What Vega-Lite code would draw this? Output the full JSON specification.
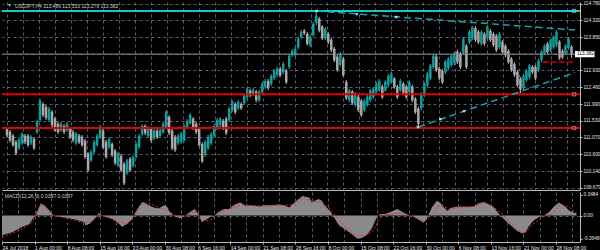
{
"$schema":"https://vega.github.io/schema/vega-lite/v6.json",
"background":"#000000",
"padding":0,
"spacing":1,
"config":{"view":{"stroke":null},"font":"Liberation Sans","axis":{"labelOverlap":false,"labelFont":"Liberation Sans"},"text":{"font":"Liberation Sans"}},
"resolve":{"scale":{"x":"independent","y":"independent"}},
"datasets":{
"candles":[
{"b":-32,"o":111.31,"h":111.36,"l":111.08,"c":111.13},
{"b":-29,"o":111.23,"h":111.28,"l":110.94,"c":110.99},
{"b":-26,"o":111.12,"h":111.17,"l":110.81,"c":110.86},
{"b":-23,"o":110.95,"h":111.00,"l":110.58,"c":110.63},
{"b":-20,"o":110.77,"h":111.08,"l":110.72,"c":111.03},
{"b":-17,"o":110.91,"h":111.22,"l":110.86,"c":111.17},
{"b":-14,"o":111.12,"h":111.17,"l":110.89,"c":110.94},
{"b":-11,"o":111.12,"h":111.17,"l":110.81,"c":110.86},
{"b":-8,"o":110.91,"h":111.14,"l":110.86,"c":111.09},
{"b":-5,"o":111.03,"h":111.08,"l":110.72,"c":110.77},
{"b":-2,"o":111.22,"h":111.56,"l":111.17,"c":111.51},
{"b":1,"o":111.55,"h":112.14,"l":111.50,"c":112.09},
{"b":4,"o":112.00,"h":112.05,"l":111.64,"c":111.69},
{"b":7,"o":111.92,"h":111.97,"l":111.56,"c":111.61},
{"b":10,"o":111.55,"h":111.92,"l":111.50,"c":111.87},
{"b":13,"o":111.78,"h":111.83,"l":111.36,"c":111.41},
{"b":16,"o":111.59,"h":111.64,"l":111.22,"c":111.27},
{"b":19,"o":111.45,"h":111.50,"l":111.17,"c":111.22},
{"b":22,"o":111.27,"h":111.50,"l":111.22,"c":111.45},
{"b":25,"o":111.39,"h":111.44,"l":111.17,"c":111.22},
{"b":28,"o":111.27,"h":111.50,"l":111.22,"c":111.45},
{"b":31,"o":111.31,"h":111.36,"l":111.03,"c":111.08},
{"b":34,"o":111.23,"h":111.28,"l":110.94,"c":110.99},
{"b":37,"o":110.91,"h":111.22,"l":110.86,"c":111.17},
{"b":40,"o":111.12,"h":111.17,"l":110.89,"c":110.94},
{"b":43,"o":111.09,"h":111.14,"l":110.81,"c":110.86},
{"b":46,"o":110.98,"h":111.03,"l":110.48,"c":110.53},
{"b":49,"o":110.62,"h":110.67,"l":110.11,"c":110.16},
{"b":52,"o":110.44,"h":110.72,"l":110.39,"c":110.67},
{"b":55,"o":110.66,"h":111.00,"l":110.61,"c":110.95},
{"b":58,"o":110.86,"h":111.17,"l":110.81,"c":111.12},
{"b":61,"o":111.08,"h":111.42,"l":111.03,"c":111.37},
{"b":64,"o":111.26,"h":111.31,"l":110.75,"c":110.80},
{"b":67,"o":110.95,"h":111.00,"l":110.48,"c":110.53},
{"b":70,"o":110.80,"h":111.08,"l":110.75,"c":111.03},
{"b":73,"o":110.89,"h":110.94,"l":110.53,"c":110.58},
{"b":76,"o":110.70,"h":110.75,"l":110.31,"c":110.36},
{"b":79,"o":110.30,"h":110.67,"l":110.25,"c":110.62},
{"b":82,"o":110.56,"h":110.61,"l":110.11,"c":110.16},
{"b":85,"o":110.34,"h":110.39,"l":109.75,"c":109.80},
{"b":88,"o":110.08,"h":110.48,"l":110.03,"c":110.43},
{"b":91,"o":110.48,"h":110.53,"l":110.11,"c":110.16},
{"b":94,"o":110.28,"h":110.58,"l":110.23,"c":110.53},
{"b":97,"o":110.53,"h":110.94,"l":110.48,"c":110.89},
{"b":100,"o":110.80,"h":111.17,"l":110.75,"c":111.12},
{"b":103,"o":111.16,"h":111.44,"l":111.11,"c":111.39},
{"b":106,"o":111.39,"h":111.44,"l":111.14,"c":111.19},
{"b":109,"o":111.11,"h":111.39,"l":111.06,"c":111.34},
{"b":112,"o":111.31,"h":111.36,"l":110.94,"c":110.99},
{"b":115,"o":111.05,"h":111.31,"l":111.00,"c":111.26},
{"b":118,"o":111.26,"h":111.31,"l":111.03,"c":111.08},
{"b":121,"o":111.11,"h":111.33,"l":111.06,"c":111.28},
{"b":124,"o":111.22,"h":111.50,"l":111.17,"c":111.45},
{"b":127,"o":111.36,"h":111.83,"l":111.31,"c":111.78},
{"b":130,"o":111.64,"h":111.69,"l":111.14,"c":111.19},
{"b":133,"o":111.26,"h":111.31,"l":110.72,"c":110.77},
{"b":136,"o":111.09,"h":111.14,"l":110.67,"c":110.72},
{"b":139,"o":110.91,"h":111.17,"l":110.86,"c":111.12},
{"b":142,"o":110.94,"h":111.22,"l":110.89,"c":111.17},
{"b":145,"o":110.99,"h":111.44,"l":110.94,"c":111.39},
{"b":148,"o":111.36,"h":111.58,"l":111.31,"c":111.53},
{"b":151,"o":111.47,"h":111.75,"l":111.42,"c":111.70},
{"b":154,"o":111.59,"h":111.64,"l":111.28,"c":111.33},
{"b":157,"o":111.45,"h":111.50,"l":111.17,"c":111.22},
{"b":160,"o":111.31,"h":111.36,"l":110.81,"c":110.86},
{"b":163,"o":110.89,"h":110.94,"l":110.36,"c":110.41},
{"b":166,"o":110.58,"h":111.00,"l":110.53,"c":110.95},
{"b":169,"o":110.77,"h":111.14,"l":110.72,"c":111.09},
{"b":172,"o":110.91,"h":111.22,"l":110.86,"c":111.17},
{"b":175,"o":111.13,"h":111.44,"l":111.08,"c":111.39},
{"b":178,"o":111.33,"h":111.61,"l":111.28,"c":111.56},
{"b":181,"o":111.41,"h":111.64,"l":111.36,"c":111.59},
{"b":184,"o":111.53,"h":111.58,"l":111.28,"c":111.33},
{"b":187,"o":111.59,"h":111.64,"l":111.14,"c":111.19},
{"b":190,"o":111.55,"h":111.92,"l":111.50,"c":111.87},
{"b":193,"o":111.83,"h":112.11,"l":111.78,"c":112.06},
{"b":196,"o":112.00,"h":112.05,"l":111.72,"c":111.77},
{"b":199,"o":111.88,"h":112.11,"l":111.83,"c":112.06},
{"b":202,"o":112.00,"h":112.05,"l":111.83,"c":111.88},
{"b":205,"o":112.02,"h":112.28,"l":111.97,"c":112.23},
{"b":208,"o":112.19,"h":112.47,"l":112.14,"c":112.42},
{"b":211,"o":112.37,"h":112.42,"l":112.19,"c":112.24},
{"b":214,"o":112.27,"h":112.44,"l":112.22,"c":112.39},
{"b":217,"o":112.34,"h":112.39,"l":112.05,"c":112.10},
{"b":220,"o":112.10,"h":112.39,"l":112.05,"c":112.34},
{"b":223,"o":112.33,"h":112.61,"l":112.28,"c":112.56},
{"b":226,"o":112.47,"h":112.69,"l":112.42,"c":112.64},
{"b":229,"o":112.64,"h":112.69,"l":112.39,"c":112.44},
{"b":232,"o":112.55,"h":112.83,"l":112.50,"c":112.78},
{"b":235,"o":112.71,"h":112.97,"l":112.66,"c":112.92},
{"b":238,"o":112.80,"h":113.03,"l":112.75,"c":112.98},
{"b":241,"o":112.98,"h":113.03,"l":112.75,"c":112.80},
{"b":244,"o":112.88,"h":113.16,"l":112.83,"c":113.11},
{"b":247,"o":112.92,"h":112.97,"l":112.55,"c":112.60},
{"b":250,"o":113.02,"h":113.39,"l":112.97,"c":113.34},
{"b":253,"o":113.35,"h":113.52,"l":113.30,"c":113.47},
{"b":256,"o":113.35,"h":113.58,"l":113.30,"c":113.53},
{"b":259,"o":113.57,"h":113.86,"l":113.52,"c":113.81},
{"b":262,"o":113.85,"h":114.05,"l":113.80,"c":114.00},
{"b":265,"o":114.03,"h":114.08,"l":113.91,"c":113.96},
{"b":268,"o":113.94,"h":113.99,"l":113.62,"c":113.67},
{"b":271,"o":113.63,"h":113.91,"l":113.58,"c":113.86},
{"b":274,"o":113.91,"h":114.27,"l":113.86,"c":114.22},
{"b":277,"o":114.24,"h":114.58,"l":114.19,"c":114.45},
{"b":280,"o":114.36,"h":114.41,"l":113.99,"c":114.04},
{"b":283,"o":114.14,"h":114.19,"l":113.77,"c":113.82},
{"b":286,"o":113.82,"h":114.13,"l":113.77,"c":114.08},
{"b":289,"o":113.94,"h":113.99,"l":113.66,"c":113.71},
{"b":292,"o":113.78,"h":113.83,"l":113.44,"c":113.49},
{"b":295,"o":113.53,"h":113.58,"l":113.16,"c":113.21},
{"b":298,"o":113.31,"h":113.36,"l":112.89,"c":112.94},
{"b":301,"o":113.08,"h":113.44,"l":113.03,"c":113.39},
{"b":304,"o":113.25,"h":113.30,"l":112.75,"c":112.80},
{"b":307,"o":112.61,"h":112.66,"l":112.11,"c":112.16},
{"b":310,"o":112.10,"h":112.42,"l":112.05,"c":112.37},
{"b":313,"o":112.34,"h":112.39,"l":111.97,"c":112.02},
{"b":316,"o":111.97,"h":112.33,"l":111.92,"c":112.28},
{"b":319,"o":112.20,"h":112.25,"l":111.78,"c":111.83},
{"b":322,"o":112.09,"h":112.14,"l":111.64,"c":111.69},
{"b":325,"o":111.83,"h":112.14,"l":111.78,"c":112.09},
{"b":328,"o":111.97,"h":112.25,"l":111.92,"c":112.20},
{"b":331,"o":112.10,"h":112.42,"l":112.05,"c":112.37},
{"b":334,"o":112.19,"h":112.47,"l":112.14,"c":112.42},
{"b":337,"o":112.33,"h":112.61,"l":112.28,"c":112.56},
{"b":340,"o":112.38,"h":112.69,"l":112.33,"c":112.64},
{"b":343,"o":112.48,"h":112.53,"l":112.14,"c":112.19},
{"b":346,"o":112.38,"h":112.66,"l":112.33,"c":112.61},
{"b":349,"o":112.52,"h":112.83,"l":112.47,"c":112.78},
{"b":352,"o":112.60,"h":112.89,"l":112.55,"c":112.84},
{"b":355,"o":112.70,"h":112.75,"l":112.42,"c":112.47},
{"b":358,"o":112.48,"h":112.53,"l":112.14,"c":112.19},
{"b":361,"o":112.38,"h":112.69,"l":112.33,"c":112.64},
{"b":364,"o":112.56,"h":112.61,"l":112.25,"c":112.30},
{"b":367,"o":112.48,"h":112.53,"l":112.14,"c":112.19},
{"b":370,"o":112.33,"h":112.66,"l":112.28,"c":112.61},
{"b":373,"o":112.48,"h":112.53,"l":112.05,"c":112.10},
{"b":376,"o":112.14,"h":112.19,"l":111.72,"c":111.77},
{"b":379,"o":111.87,"h":111.92,"l":111.36,"c":111.45},
{"b":382,"o":111.88,"h":112.33,"l":111.83,"c":112.28},
{"b":385,"o":112.24,"h":112.61,"l":112.19,"c":112.56},
{"b":388,"o":112.52,"h":112.89,"l":112.47,"c":112.84},
{"b":391,"o":112.71,"h":113.11,"l":112.66,"c":113.06},
{"b":394,"o":113.02,"h":113.39,"l":112.97,"c":113.34},
{"b":397,"o":113.31,"h":113.36,"l":112.89,"c":112.94},
{"b":400,"o":112.98,"h":113.03,"l":112.66,"c":112.71},
{"b":403,"o":112.92,"h":112.97,"l":112.55,"c":112.60},
{"b":406,"o":112.88,"h":113.22,"l":112.83,"c":113.17},
{"b":409,"o":112.99,"h":113.30,"l":112.94,"c":113.25},
{"b":412,"o":113.08,"h":113.39,"l":113.03,"c":113.34},
{"b":415,"o":113.13,"h":113.44,"l":113.08,"c":113.39},
{"b":418,"o":113.45,"h":113.50,"l":113.11,"c":113.16},
{"b":421,"o":113.39,"h":113.44,"l":112.97,"c":113.02},
{"b":424,"o":113.41,"h":113.86,"l":113.36,"c":113.81},
{"b":427,"o":113.61,"h":113.66,"l":112.97,"c":113.02},
{"b":430,"o":113.71,"h":114.05,"l":113.66,"c":114.00},
{"b":433,"o":113.82,"h":114.16,"l":113.77,"c":114.11},
{"b":436,"o":114.11,"h":114.16,"l":113.72,"c":113.77},
{"b":439,"o":114.00,"h":114.05,"l":113.66,"c":113.71},
{"b":442,"o":113.67,"h":114.05,"l":113.62,"c":114.00},
{"b":445,"o":113.94,"h":113.99,"l":113.62,"c":113.67},
{"b":448,"o":113.82,"h":114.19,"l":113.77,"c":114.14},
{"b":451,"o":114.03,"h":114.08,"l":113.72,"c":113.77},
{"b":454,"o":113.94,"h":113.99,"l":113.58,"c":113.63},
{"b":457,"o":113.89,"h":113.94,"l":113.44,"c":113.49},
{"b":460,"o":113.57,"h":113.99,"l":113.52,"c":113.94},
{"b":463,"o":113.72,"h":113.77,"l":113.39,"c":113.44},
{"b":466,"o":113.61,"h":113.66,"l":113.30,"c":113.35},
{"b":469,"o":113.47,"h":113.52,"l":113.11,"c":113.16},
{"b":472,"o":113.25,"h":113.30,"l":112.89,"c":112.94},
{"b":475,"o":113.11,"h":113.16,"l":112.75,"c":112.80},
{"b":478,"o":112.89,"h":112.94,"l":112.47,"c":112.52},
{"b":481,"o":112.70,"h":112.75,"l":112.30,"c":112.40},
{"b":484,"o":112.44,"h":112.83,"l":112.39,"c":112.78},
{"b":487,"o":112.66,"h":112.97,"l":112.61,"c":112.92},
{"b":490,"o":112.74,"h":113.11,"l":112.69,"c":113.06},
{"b":493,"o":113.03,"h":113.08,"l":112.83,"c":112.88},
{"b":496,"o":113.03,"h":113.08,"l":112.66,"c":112.71},
{"b":499,"o":112.94,"h":113.25,"l":112.89,"c":113.20},
{"b":502,"o":113.21,"h":113.50,"l":113.16,"c":113.45},
{"b":505,"o":113.41,"h":113.66,"l":113.36,"c":113.61},
{"b":508,"o":113.67,"h":113.72,"l":113.39,"c":113.44},
{"b":511,"o":113.49,"h":113.80,"l":113.44,"c":113.75},
{"b":514,"o":113.57,"h":113.91,"l":113.52,"c":113.86},
{"b":517,"o":113.63,"h":114.05,"l":113.58,"c":114.00},
{"b":520,"o":113.72,"h":113.77,"l":113.22,"c":113.27},
{"b":523,"o":113.47,"h":113.52,"l":113.25,"c":113.30},
{"b":526,"o":113.41,"h":113.66,"l":113.36,"c":113.61},
{"b":529,"o":113.55,"h":113.86,"l":113.50,"c":113.81},
{"b":532,"o":113.58,"h":113.63,"l":113.28,"c":113.382}
],
"levels":[{"name":"resistance","p":114.58},{"name":"support 1","p":112.267},{"name":"support 2","p":111.333}],
"last":[{"b":535.5,"p":113.382,"t":"113.382"}],
"shortline":[{"b1":503,"b2":535.5,"p":113.16}],
"trend":[{"line":"upper","b":277,"p":114.58},{"line":"upper","b":535.5,"p":114.05},{"line":"lower","b":379,"p":111.36},{"line":"lower","b":535.5,"p":112.87}],
"anchors":[{"b":277.4,"p":114.58},{"b":317.6,"p":114.49},{"b":356.9,"p":114.41},{"b":378.5,"p":111.36},{"b":401,"p":111.58},{"b":424.6,"p":111.8}],
"notes":[{"b":-24,"p":114.716,"t":"USDJPY,H4  113.486 113.533 113.279 113.382"}],
"icon":[{"b":-29.5,"p":114.73}],
"hist":[
{"b":-32,"v":-0.33},{"b":-22,"v":-0.28},{"b":-12,"v":-0.19},{"b":-5,"v":-0.14},{"b":-2,"v":-0.055},{"b":1,"v":0},{"b":5,"v":0.166},{"b":6,"v":0.21},{"b":10,"v":0.166},{"b":15,"v":0.083},{"b":17,"v":0.028},{"b":20,"v":0},{"b":25,"v":-0.017},{"b":34,"v":-0.044},{"b":40,"v":-0.066},{"b":49,"v":-0.11},{"b":50,"v":-0.166},{"b":54,"v":-0.138},{"b":59,"v":-0.055},{"b":63,"v":0.044},{"b":66,"v":0},{"b":69,"v":-0.017},{"b":76,"v":-0.055},{"b":81,"v":-0.11},{"b":86,"v":-0.19},{"b":91,"v":-0.138},{"b":96,"v":-0.055},{"b":99,"v":0.055},{"b":103,"v":0.166},{"b":106,"v":0.23},{"b":109,"v":0.21},{"b":112,"v":0.177},{"b":117,"v":0.138},{"b":122,"v":0.12},{"b":127,"v":0.177},{"b":130,"v":0.155},{"b":133,"v":0.055},{"b":138,"v":-0.017},{"b":143,"v":-0.044},{"b":148,"v":0},{"b":153,"v":0.066},{"b":157,"v":0.11},{"b":162,"v":0},{"b":164,"v":-0.11},{"b":167,"v":-0.083},{"b":172,"v":-0.028},{"b":177,"v":0.011},{"b":181,"v":0.066},{"b":186,"v":0.11},{"b":191,"v":0.11},{"b":194,"v":0.155},{"b":197,"v":0.19},{"b":202,"v":0.22},{"b":207,"v":0.166},{"b":212,"v":0.177},{"b":216,"v":0.166},{"b":221,"v":0.155},{"b":226,"v":0.177},{"b":233,"v":0.177},{"b":240,"v":0.188},{"b":245,"v":0.177},{"b":250,"v":0.138},{"b":255,"v":0.22},{"b":260,"v":0.29},{"b":263,"v":0.33},{"b":270,"v":0.30},{"b":272,"v":0.22},{"b":275,"v":0.25},{"b":279,"v":0.28},{"b":282,"v":0.25},{"b":285,"v":0.166},{"b":290,"v":0.083},{"b":295,"v":-0.055},{"b":299,"v":-0.166},{"b":304,"v":-0.22},{"b":309,"v":-0.28},{"b":314,"v":-0.35},{"b":317,"v":-0.39},{"b":321,"v":-0.38},{"b":326,"v":-0.33},{"b":331,"v":-0.22},{"b":336,"v":-0.028},{"b":339,"v":0.028},{"b":344,"v":0.028},{"b":349,"v":0.055},{"b":356,"v":0.11},{"b":361,"v":0.066},{"b":366,"v":0.017},{"b":370,"v":0},{"b":375,"v":-0.044},{"b":382,"v":-0.12},{"b":385,"v":-0.055},{"b":390,"v":0.138},{"b":395,"v":0.25},{"b":398,"v":0.22},{"b":402,"v":0.138},{"b":405,"v":0.083},{"b":410,"v":0.138},{"b":415,"v":0.15},{"b":420,"v":0.155},{"b":426,"v":0.15},{"b":431,"v":0.155},{"b":436,"v":0.21},{"b":441,"v":0.23},{"b":446,"v":0.19},{"b":451,"v":0.138},{"b":456,"v":0.028},{"b":459,"v":-0.028},{"b":464,"v":-0.11},{"b":469,"v":-0.19},{"b":474,"v":-0.265},{"b":479,"v":-0.30},{"b":482,"v":-0.28},{"b":485,"v":-0.19},{"b":490,"v":-0.083},{"b":495,"v":-0.028},{"b":500,"v":0},{"b":505,"v":0.055},{"b":510,"v":0.155},{"b":515,"v":0.22},{"b":520,"v":0.166},{"b":525,"v":0.083},{"b":530,"v":0.044},{"b":532,"v":0.04}
],
"sig":[
{"b":-32,"v":-0.36},{"b":-22,"v":-0.30},{"b":-12,"v":-0.22},{"b":-2,"v":-0.11},{"b":1,"v":0.028},{"b":6,"v":0.177},{"b":10,"v":0.166},{"b":17,"v":0},{"b":24,"v":-0.017},{"b":34,"v":-0.055},{"b":47,"v":-0.11},{"b":54,"v":-0.11},{"b":63,"v":0},{"b":73,"v":-0.017},{"b":83,"v":-0.11},{"b":91,"v":-0.138},{"b":99,"v":0.028},{"b":106,"v":0.19},{"b":112,"v":0.21},{"b":122,"v":0.138},{"b":132,"v":0.083},{"b":138,"v":0},{"b":148,"v":-0.028},{"b":157,"v":0.083},{"b":164,"v":-0.083},{"b":172,"v":-0.083},{"b":181,"v":0.055},{"b":191,"v":0.11},{"b":204,"v":0.19},{"b":216,"v":0.166},{"b":230,"v":0.166},{"b":246,"v":0.177},{"b":256,"v":0.19},{"b":263,"v":0.30},{"b":272,"v":0.25},{"b":282,"v":0.22},{"b":289,"v":0.138},{"b":295,"v":0},{"b":305,"v":-0.19},{"b":315,"v":-0.33},{"b":324,"v":-0.34},{"b":331,"v":-0.28},{"b":341,"v":0},{"b":351,"v":0.028},{"b":361,"v":0.044},{"b":373,"v":-0.028},{"b":382,"v":-0.11},{"b":390,"v":0},{"b":397,"v":0.166},{"b":407,"v":0.12},{"b":420,"v":0.138},{"b":432,"v":0.155},{"b":441,"v":0.22},{"b":449,"v":0.166},{"b":459,"v":0.028},{"b":472,"v":-0.22},{"b":481,"v":-0.30},{"b":488,"v":-0.166},{"b":498,"v":-0.028},{"b":508,"v":0.028},{"b":516,"v":0.19},{"b":525,"v":0.138},{"b":532,"v":0.04}
],
"macdnote":[{"b":-29.3,"v":0.323,"t":"MACD(12,26,9) 0.0397 0.0397"}]
},
"vconcat":[
{
"width":578,"height":188,
"layer":[
{"data":{"name":"candles"},"mark":{"type":"rule","strokeWidth":1.2},
"encoding":{
"x":{"field":"b","type":"quantitative","scale":{"domain":[-32,535.5],"nice":false,"zero":false},
"axis":{"title":null,"tickCount":200,"values":[-32,-16,0,16,32,48,64,80,96,112,128,144,160,176,192,208,224,240,256,272,288,304,320,336,352,368,384,400,416,432,448,464,480,496,512,528],"labels":false,"ticks":false,"domain":true,"domainColor":"#bdbdbd","grid":true,"gridColor":"#5a5f6e","gridDash":[3,3]}},
"y":{"field":"l","type":"quantitative","scale":{"domain":[109.614,114.827],"nice":false,"zero":false},
"axis":{"title":null,"orient":"right","tickCount":200,"values":[114.78,114.32,113.85,113.39,112.93,112.46,111.99,111.53,111.07,110.6,110.14,109.67],"labelExpr":"datum.value == 113.39 ? '' : format(datum.value, '.3f')","labelColor":"#e6e6e6","labelFontSize":4.8,"labelPadding":1,"labelOverlap":false,"tickSize":2,"tickColor":"#bdbdbd","domainColor":"#bdbdbd","grid":true,"gridColor":"#5a5f6e","gridDash":[3,3]}},
"y2":{"field":"h"},
"color":{"condition":{"test":"datum.c >= datum.o","value":"#0e9e9e"},"value":"#a9a9a9"}}},
{"data":{"name":"candles"},"mark":{"type":"bar","size":2.5},
"encoding":{"x":{"field":"b","type":"quantitative"},"y":{"field":"o","type":"quantitative"},"y2":{"field":"c"},
"color":{"condition":{"test":"datum.c >= datum.o","value":"#0e9e9e"},"value":"#a9a9a9"}}},
{"data":{"name":"last"},"mark":{"type":"rule","color":"#858b99","strokeWidth":1},
"encoding":{"y":{"field":"p","type":"quantitative"}}},
{"data":{"name":"levels"},"mark":{"type":"rule","strokeWidth":2},
"encoding":{"y":{"field":"p","type":"quantitative"},
"color":{"condition":{"test":"datum.name == 'resistance'","value":"#1fc6c6"},"value":"#e00000"}}},
{"data":{"name":"levels"},"mark":{"type":"point","shape":"square","filled":true,"size":12,"stroke":"#ffffff","strokeWidth":0.6},
"encoding":{"x":{"datum":534.5},"y":{"field":"p","type":"quantitative"},
"fill":{"condition":{"test":"datum.name == 'resistance'","value":"#1fc6c6"},"value":"#e00000"}}},
{"data":{"name":"shortline"},"mark":{"type":"rule","color":"#d00000","strokeWidth":1.5,"strokeDash":[6,2]},
"encoding":{"x":{"field":"b1","type":"quantitative"},"x2":{"field":"b2"},"y":{"field":"p","type":"quantitative"}}},
{"data":{"name":"trend"},"mark":{"type":"line","color":"#15a6a6","strokeWidth":1.5,"strokeDash":[7,4]},
"encoding":{"x":{"field":"b","type":"quantitative"},"y":{"field":"p","type":"quantitative"},"detail":{"field":"line"}}},
{"data":{"name":"anchors"},"mark":{"type":"point","shape":"square","filled":true,"size":6,"color":"#e8ffff"},
"encoding":{"x":{"field":"b","type":"quantitative"},"y":{"field":"p","type":"quantitative"}}},
{"data":{"name":"last"},"mark":{"type":"rect","color":"#ffffff"},
"encoding":{"x":{"field":"b","type":"quantitative"},"x2":{"datum":555},"y":{"datum":113.47},"y2":{"datum":113.295}}},
{"data":{"name":"last"},"mark":{"type":"text","align":"left","baseline":"middle","dx":2,"fontSize":4.8,"color":"#000000"},
"encoding":{"x":{"field":"b","type":"quantitative"},"y":{"field":"p","type":"quantitative"},"text":{"field":"t"}}},
{"data":{"name":"notes"},"mark":{"type":"text","align":"left","baseline":"middle","fontSize":5,"color":"#cfcfcf"},
"encoding":{"x":{"field":"b","type":"quantitative"},"y":{"field":"p","type":"quantitative"},"text":{"field":"t"}}},
{"data":{"name":"icon"},"mark":{"type":"point","shape":"triangle-down","filled":true,"size":8,"color":"#ffffff"},
"encoding":{"x":{"field":"b","type":"quantitative"},"y":{"field":"p","type":"quantitative"}}}
]
},
{
"width":578,"height":50,
"layer":[
{"data":{"name":"hist"},"mark":{"type":"area","color":"#8a8a8a"},
"encoding":{
"x":{"field":"b","type":"quantitative","scale":{"domain":[-32,535.5],"nice":false,"zero":false},
"axis":{"title":null,"tickCount":200,"values":[-32,-16,0,16,32,48,64,80,96,112,128,144,160,176,192,208,224,240,256,272,288,304,320,336,352,368,384,400,416,432,448,464,480,496,512,528],
"labelExpr":"(datum.value % 32 == 0) ? ['24 Jul 2018','1 Aug 00:00','8 Aug 08:00','15 Aug 16:00','23 Aug 00:00','30 Aug 08:00','6 Sep 16:00','14 Sep 00:00','21 Sep 08:00','28 Sep 16:00','8 Oct 00:00','15 Oct 08:00','22 Oct 16:00','30 Oct 00:00','6 Nov 08:00','13 Nov 16:00','21 Nov 00:00','28 Nov 08:00'][(datum.value + 32) / 32] : ''",
"labelAlign":"left","labelColor":"#e6e6e6","labelFontSize":5,"labelPadding":1,"labelOverlap":false,"labelBound":false,"labelFlush":false,
"tickSize":2,"tickColor":"#bdbdbd","tickOpacity":{"condition":{"test":"datum.value % 32 == 0","value":1},"value":0},
"domainColor":"#bdbdbd","grid":true,"gridColor":"#5a5f6e","gridDash":[3,3]}},
"y":{"field":"v","type":"quantitative","scale":{"domain":[-0.4455,0.399],"nice":false,"zero":false},
"axis":{"title":null,"orient":"right","tickCount":200,"values":[0.3484,0,-0.3948],"labelExpr":"datum.value == 0 ? '0.00' : replace(format(datum.value, '.4f'), '\u2212', '-')","labelColor":"#e6e6e6","labelFontSize":4.8,"labelPadding":1,"labelOverlap":false,"tickSize":2,"tickColor":"#bdbdbd","domainColor":"#bdbdbd","grid":true,"gridColor":"#5a5f6e","gridDash":[3,3],"gridOpacity":{"condition":{"test":"datum.value == 0","value":1},"value":0}}},
"y2":{"datum":0}}},
{"data":{"name":"sig"},"mark":{"type":"line","color":"#ff2020","strokeWidth":1,"strokeDash":[2,2]},
"encoding":{"x":{"field":"b","type":"quantitative"},"y":{"field":"v","type":"quantitative"}}},
{"data":{"name":"macdnote"},"mark":{"type":"text","align":"left","baseline":"middle","fontSize":5,"color":"#cfcfcf"},
"encoding":{"x":{"field":"b","type":"quantitative"},"y":{"field":"v","type":"quantitative"},"text":{"field":"t"}}}
]
}
]
}
